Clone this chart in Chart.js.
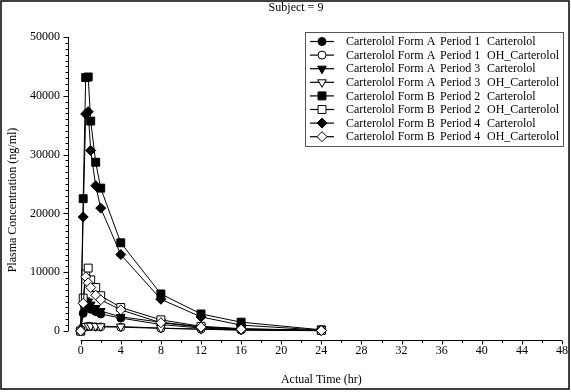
<!DOCTYPE html>
<html>
<head>
<meta charset="utf-8">
<script src="https://cdn.jsdelivr.net/npm/chart.js@4.4.1/dist/chart.umd.min.js"></script>
<style>
  html, body { margin: 0; padding: 0; background: #fff; }
  canvas { display: block; }
</style>
</head>
<body>
<canvas id="pkChart" width="571" height="392"></canvas>
<script>
// sampling times (hr)
const times = [0, 0.25, 0.5, 0.75, 1, 1.5, 2, 4, 8, 12, 16, 24];

// plasma concentrations (ng/ml)
const formA_p1_parent = [0, 3000, 3900, 4000, 3700, 3300, 2900, 2200, 1100, 500, 250, 80];
const formA_p1_oh     = [0, 500, 700, 750, 750, 700, 700, 650, 450, 300, 150, 50];
const formA_p3_parent = [0, 4300, 5200, 5000, 4500, 3900, 3400, 2400, 1500, 700, 350, 100];
const formA_p3_oh     = [0, 600, 850, 900, 900, 850, 800, 750, 500, 320, 180, 60];
const formB_p2_parent = [0, 22500, 43100, 43200, 35700, 28700, 24300, 15000, 6300, 2900, 1500, 200];
const formB_p2_oh     = [0, 5600, 9700, 10700, 8700, 7400, 6000, 4000, 1900, 800, 400, 100];
const formB_p4_parent = [0, 19400, 36900, 37300, 30700, 24700, 20900, 13000, 5400, 2400, 1000, 150];
const formB_p4_oh     = [0, 4700, 9200, 8200, 7400, 6100, 5300, 3600, 1400, 650, 300, 80];

const forms = ['Carterolol Form A', 'Carterolol Form A', 'Carterolol Form A', 'Carterolol Form A',
               'Carterolol Form B', 'Carterolol Form B', 'Carterolol Form B', 'Carterolol Form B'];
const periods = ['Period 1', 'Period 1', 'Period 3', 'Period 3', 'Period 2', 'Period 2', 'Period 4', 'Period 4'];
const analytes = ['Carterolol', 'OH_Carterolol', 'Carterolol', 'OH_Carterolol',
                  'Carterolol', 'OH_Carterolol', 'Carterolol', 'OH_Carterolol'];
const seriesValues = [formA_p1_parent, formA_p1_oh, formA_p3_parent, formA_p3_oh,
                      formB_p2_parent, formB_p2_oh, formB_p4_parent, formB_p4_oh];

const xTicks = [0, 4, 8, 12, 16, 20, 24, 28, 32, 36, 40, 44, 48];
const yTicks = [0, 10000, 20000, 30000, 40000, 50000];

const chartTitle = 'Subject = 9';
const xTitle = 'Actual Time (hr)';
const yTitle = 'Plasma Concentration (ng/ml)';

// marker look per series
const markers = [
  { style: 'circle', rot: 0, r: 4, fill: '#000' },
  { style: 'circle', rot: 0, r: 4, fill: '#fff' },
  { style: 'triangle', rot: 180, r: 5, fill: '#000' },
  { style: 'triangle', rot: 180, r: 5, fill: '#fff' },
  { style: 'rect', rot: 0, r: 5.6, fill: '#000' },
  { style: 'rect', rot: 0, r: 5.6, fill: '#fff' },
  { style: 'rectRot', rot: 0, r: 5, fill: '#000' },
  { style: 'rectRot', rot: 0, r: 5, fill: '#fff' }
];

const FONT = "'Liberation Serif', 'Times New Roman', serif";

const datasets = seriesValues.map((vals, i) => ({
  label: forms[i] + '  ' + periods[i] + '  ' + analytes[i],
  data: times.map((t, j) => ({ x: t, y: vals[j] })),
  borderColor: '#000',
  borderWidth: 1,
  pointStyle: markers[i].style,
  pointRotation: markers[i].rot,
  pointRadius: markers[i].r,
  pointBackgroundColor: markers[i].fill,
  pointBorderColor: '#000',
  pointBorderWidth: 1,
  tension: 0,
  fill: false,
  order: seriesValues.length - i
}));

const sigmaPlot = {
  id: 'sigmaPlot',
  beforeDraw(chart) {
    const { ctx, width, height } = chart;
    ctx.save();
    ctx.fillStyle = '#fff';
    ctx.fillRect(0, 0, width, height);
    ctx.restore();
  },
  afterDraw(chart) {
    const { ctx, chartArea, scales: { x, y } } = chart;
    ctx.save();
    ctx.strokeStyle = '#000';
    ctx.lineWidth = 1;

    // x axis (offset below the data)
    const ax = Math.round(chartArea.bottom) - 0.5;
    ctx.beginPath();
    ctx.moveTo(x.getPixelForValue(xTicks[0]), ax);
    ctx.lineTo(x.getPixelForValue(xTicks[xTicks.length - 1]), ax);
    for (let t = xTicks[0]; t <= xTicks[xTicks.length - 1]; t += 2) {
      const px = Math.round(x.getPixelForValue(t)) + 0.5;
      ctx.moveTo(px, ax);
      ctx.lineTo(px, ax + (t % 4 === 0 ? 4 : 2.5));
    }
    ctx.stroke();

    // y axis (offset left of the data)
    const ay = Math.round(chartArea.left) + 0.5;
    ctx.beginPath();
    ctx.moveTo(ay, y.getPixelForValue(yTicks[0]));
    ctx.lineTo(ay, y.getPixelForValue(yTicks[yTicks.length - 1]));
    for (let v = yTicks[0]; v <= yTicks[yTicks.length - 1]; v += 1000) {
      const py = Math.round(y.getPixelForValue(v)) + 0.5;
      ctx.moveTo(ay, py);
      ctx.lineTo(ay - (v % 10000 === 0 ? 5 : 3), py);
    }
    ctx.stroke();

    // titles
    ctx.fillStyle = '#000';
    ctx.font = '12px ' + FONT;
    ctx.textAlign = 'center';
    ctx.textBaseline = 'alphabetic';
    ctx.fillText(chartTitle, 296, 11);
    const xMid = (x.getPixelForValue(xTicks[0]) + x.getPixelForValue(xTicks[xTicks.length - 1])) / 2;
    ctx.fillText(xTitle, xMid, 383);
    ctx.save();
    ctx.translate(16, 200);
    ctx.rotate(-Math.PI / 2);
    ctx.fillText(yTitle, 0, 0);
    ctx.restore();

    // legend
    const lx = 305.5, ly = 32.5, lw = 258, lh = 114, rowH = 13.6;
    ctx.strokeStyle = '#555';
    ctx.strokeRect(lx, ly, lw, lh);
    ctx.textAlign = 'left';
    ctx.textBaseline = 'middle';
    chart.data.datasets.forEach((ds, i) => {
      const cy = 41.5 + i * rowH;
      ctx.strokeStyle = '#000';
      ctx.lineWidth = 1.2;
      ctx.beginPath();
      ctx.moveTo(310, cy);
      ctx.lineTo(334, cy);
      ctx.stroke();
      ctx.lineWidth = 1;
      ctx.fillStyle = ds.pointBackgroundColor;
      Chart.helpers.drawPoint(ctx, {
        pointStyle: ds.pointStyle,
        rotation: ds.pointRotation,
        radius: ds.pointRadius,
        borderWidth: 1
      }, 322, cy);
      ctx.fillStyle = '#000';
      ctx.fillText(forms[i], 346, cy + 0.5);
      ctx.fillText(periods[i], 440, cy + 0.5);
      ctx.fillText(analytes[i], 487, cy + 0.5);
    });

    // outer frame
    ctx.strokeStyle = '#000';
    ctx.lineWidth = 1.5;
    ctx.strokeRect(1, 1, 568, 388);
    ctx.restore();
  }
};

new Chart(document.getElementById('pkChart'), {
  type: 'line',
  data: { datasets },
  plugins: [sigmaPlot],
  options: {
    responsive: false,
    devicePixelRatio: 1,
    animation: false,
    layout: { padding: { top: 37, right: 8, left: 0, bottom: 0 } },
    plugins: {
      legend: { display: false },
      title: { display: false },
      tooltip: { enabled: false }
    },
    scales: {
      x: {
        type: 'linear',
        min: -1.264,
        max: 48,
        grid: { display: false, drawTicks: false },
        border: { display: false },
        afterBuildTicks: (scale) => { scale.ticks = xTicks.map(v => ({ value: v })); },
        afterFit: (scale) => { scale.height = 51; },
        ticks: { color: '#000', font: { family: FONT, size: 12 }, padding: 3, maxRotation: 0, autoSkip: false,
                 callback: (v) => String(v) }
      },
      y: {
        type: 'linear',
        min: -1700,
        max: 50000,
        grid: { display: false, drawTicks: false },
        border: { display: false },
        afterBuildTicks: (scale) => { scale.ticks = yTicks.map(v => ({ value: v })); },
        afterFit: (scale) => { scale.width = 68; },
        ticks: { color: '#000', font: { family: FONT, size: 12 }, padding: 8, autoSkip: false,
                 callback: (v) => String(v) }
      }
    }
  }
});
</script>
</body>
</html>
